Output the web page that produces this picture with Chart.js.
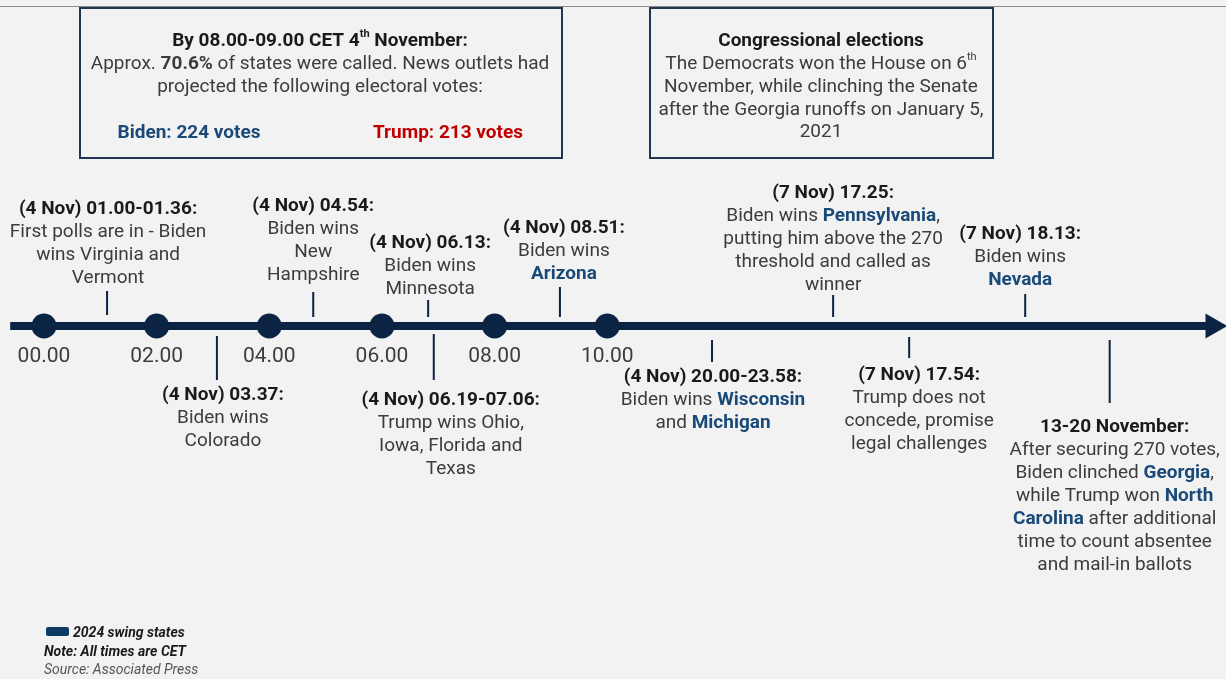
<!DOCTYPE html>
<html>
<head>
<meta charset="utf-8">
<script src="https://cdn.jsdelivr.net/npm/chart.js@4.4.1/dist/chart.umd.min.js"></script>
<style>
    html, body { margin: 0; padding: 0; background: #f2f2f2; }
    #wrap { width: 1226px; height: 679px; }
</style>
</head>
<body>
<div id="wrap"><canvas id="timelineChart" width="1226" height="679"></canvas></div>
<script>
// --- data -------------------------------------------------------------
// hours after midnight CET on 4 Nov (the later events are squeezed in)
const hourTicks = [0, 2, 4, 6, 8, 10];
const hourLabels = ["00.00", "02.00", "04.00", "06.00", "08.00", "10.00"];

const eventTimes = [1.12, 3.07, 4.78, 6.82, 6.92, 9.16, 11.86, 14.01, 15.36, 17.42, 18.92];
const eventSides = ["up", "down", "up", "up", "down", "up", "down", "up", "down", "up", "down"];
const eventTitles = [
    "(4 Nov) 01.00-01.36:",
    "(4 Nov) 03.37:",
    "(4 Nov) 04.54:",
    "(4 Nov) 06.13:",
    "(4 Nov) 06.19-07.06:",
    "(4 Nov) 08.51:",
    "(4 Nov) 20.00-23.58:",
    "(7 Nov) 17.25:",
    "(7 Nov) 17.54:",
    "(7 Nov) 18.13:",
    "13-20 November:",
];
// [[...]] = 2024 swing state (blue bold)
const eventTexts = [
    ["First polls are in - Biden", "wins Virginia and", "Vermont"],
    ["Biden wins", "Colorado"],
    ["Biden wins", "New", "Hampshire"],
    ["Biden wins", "Minnesota"],
    ["Trump wins Ohio,", "Iowa, Florida and", "Texas"],
    ["Biden wins", "[[Arizona]]"],
    ["Biden wins [[Wisconsin]]", "and [[Michigan]]"],
    ["Biden wins [[Pennsylvania]],", "putting him above the 270", "threshold and called as", "winner"],
    ["Trump does not", "concede, promise", "legal challenges"],
    ["Biden wins", "[[Nevada]]"],
    ["After securing 270 votes,", "Biden clinched [[Georgia]],", "while Trump won [[North]]",
     "[[Carolina]] after additional", "time to count absentee", "and mail-in ballots"],
];

const calledShare = "70.6%";
const bidenVotes = 224;
const trumpVotes = 213;

// --- layout (pixels relative to the axis, up = positive) --------------
const stemSpans = [[11, 35], [-10, -54], [9, 34], [9, 26], [-8, -54], [9, 39],
                   [-14, -36], [9, 31], [-11, -32], [9, 32], [-14, -77]];
const labelTop = [119, -67, 122, 85, -72, 100, -49, 135, -47, 94, -99];
const labelShift = [1, 6, 0, 2, 17, 4, 1, 0, 10, -5, 5];

const NAVY = "#0c2444";
const BLUE = "#1a4a78";
const RED = "#c00000";
const TEXT = "#3c3c3c";
const DARK = "#1a1a1a";
const FAMILY = 'Roboto, "Liberation Sans", sans-serif';
const FS = 19;
const LINE_H = 23;
const TEXT_NUDGE = 2; // Roboto sits a little high with a middle baseline

function parseRich(str) {
    return str.split(/(\*\*[^*]+\*\*|\[\[[^\]]+\]\]|\^[^^]+\^)/)
        .filter(s => s)
        .map(s => {
            if (s.startsWith("**")) return { text: s.slice(2, -2), kind: "bold" };
            if (s.startsWith("[[")) return { text: s.slice(2, -2), kind: "blue" };
            if (s.startsWith("^")) return { text: s.slice(1, -1), kind: "sup" };
            return { text: s, kind: "plain" };
        });
}

function segFont(seg, base) {
    const weight = seg.kind === "bold" || seg.kind === "blue" ? "bold" : base.weight;
    const size = seg.kind === "sup" ? Math.round(base.size * 0.6) : base.size;
    return `${base.style || ""} ${weight} ${size}px ${FAMILY}`;
}

// draw one line of rich text centred on cx (or left aligned if base.left)
function drawRich(ctx, str, cx, y, base) {
    const segs = parseRich(str);
    let total = 0;
    segs.forEach(seg => {
        ctx.font = segFont(seg, base);
        seg.w = ctx.measureText(seg.text).width;
        total += seg.w;
    });
    let x = base.left ? cx : cx - total / 2;
    ctx.textAlign = "left";
    ctx.textBaseline = "middle";
    segs.forEach(seg => {
        ctx.font = segFont(seg, base);
        ctx.fillStyle = seg.kind === "blue" ? BLUE : base.color;
        const dy = seg.kind === "sup" ? -base.size * 0.35 : 0;
        ctx.fillText(seg.text, x, y + dy + TEXT_NUDGE);
        x += seg.w;
    });
}

const annotationPlugin = {
    id: "timelineText",
    beforeDraw(chart) {
        const ctx = chart.ctx;
        ctx.save();
        ctx.fillStyle = "#f2f2f2";
        ctx.fillRect(0, 0, chart.width, chart.height);
        ctx.strokeStyle = "#8a8a8a";
        ctx.lineWidth = 1;
        ctx.beginPath();
        ctx.moveTo(0, 6.5);
        ctx.lineTo(chart.width, 6.5);
        ctx.stroke();
        ctx.restore();
    },
    afterDatasetsDraw(chart) {
        const ctx = chart.ctx;
        const xs = chart.scales.x;
        const ys = chart.scales.y;
        ctx.save();

        // hour labels under the dots
        hourTicks.forEach((h, i) => {
            drawRich(ctx, hourLabels[i], xs.getPixelForValue(h), ys.getPixelForValue(-29),
                { weight: "normal", size: 21, color: TEXT });
        });

        // event labels
        eventTimes.forEach((t, i) => {
            const cx = xs.getPixelForValue(t) + labelShift[i];
            let y = ys.getPixelForValue(labelTop[i]);
            drawRich(ctx, eventTitles[i], cx, y, { weight: "bold", size: FS, color: DARK });
            eventTexts[i].forEach(line => {
                y += LINE_H;
                drawRich(ctx, line, cx, y, { weight: "normal", size: FS, color: TEXT });
            });
        });

        // info boxes
        ctx.strokeStyle = "#1e3553";
        ctx.lineWidth = 2;
        ctx.strokeRect(80, 8, 482, 150);
        ctx.strokeRect(650, 8, 343, 150);

        drawRich(ctx, "By 08.00-09.00 CET 4^th^ November:", 320, 39, { weight: "bold", size: FS, color: DARK });
        drawRich(ctx, `Approx. **${calledShare}** of states were called. News outlets had`, 320, 62,
            { weight: "normal", size: FS, color: TEXT });
        drawRich(ctx, "projected the following electoral votes:", 320, 85, { weight: "normal", size: FS, color: TEXT });
        drawRich(ctx, `Biden: ${bidenVotes} votes`, 189, 131, { weight: "bold", size: FS, color: BLUE });
        drawRich(ctx, `Trump: ${trumpVotes} votes`, 448, 131, { weight: "bold", size: FS, color: RED });

        drawRich(ctx, "Congressional elections", 821, 39, { weight: "bold", size: FS, color: DARK });
        ["The Democrats won the House on 6^th^",
         "November, while clinching the Senate",
         "after the Georgia runoffs on January 5,",
         "2021"].forEach((line, i) => {
            drawRich(ctx, line, 821, 62 + i * LINE_H - (i === 3 ? 1 : 0),
                { weight: "normal", size: FS, color: TEXT });
        });

        // legend and notes
        ctx.fillStyle = "#0f3a63";
        ctx.beginPath();
        ctx.roundRect(46, 627, 23, 9, 2);
        ctx.fill();
        drawRich(ctx, "2024 swing states", 73, 631, { style: "italic", weight: "bold", size: 14, color: DARK, left: true });
        drawRich(ctx, "Note: All times are CET", 44, 650, { style: "italic", weight: "bold", size: 14, color: DARK, left: true });
        drawRich(ctx, "Source: Associated Press", 44, 668, { style: "italic", weight: "normal", size: 14, color: "#555555", left: true });

        ctx.restore();
    },
};

// stems: pairs of points, broken by gaps
const stemPoints = [];
eventTimes.forEach((t, i) => {
    stemPoints.push({ x: t, y: stemSpans[i][0] });
    stemPoints.push({ x: t, y: stemSpans[i][1] });
    stemPoints.push({ x: t, y: null });
});

new Chart(document.getElementById("timelineChart"), {
    type: "line",
    data: {
        datasets: [
            {
                label: "axis",
                data: [{ x: -0.6, y: 0 }, { x: 20.65, y: 0 }],
                borderColor: NAVY,
                borderWidth: 8,
                pointRadius: 0,
                order: 3,
            },
            {
                label: "arrow",
                data: [{ x: 20.75, y: 0 }],
                showLine: false,
                pointStyle: "triangle",
                pointRotation: 90,
                pointRadius: 14.5,
                pointBackgroundColor: NAVY,
                pointBorderWidth: 0,
                order: 2,
            },
            {
                label: "hours",
                data: hourTicks.map(h => ({ x: h, y: 0 })),
                showLine: false,
                pointRadius: 12.5,
                pointBackgroundColor: NAVY,
                pointBorderWidth: 0,
                order: 1,
            },
            {
                label: "stems",
                data: stemPoints,
                borderColor: NAVY,
                borderWidth: 2,
                pointRadius: 0,
                spanGaps: false,
                order: 4,
            },
        ],
    },
    options: {
        responsive: false,
        animation: false,
        layout: { padding: 0, autoPadding: false },
        clip: false,
        plugins: {
            legend: { display: false },
            tooltip: { enabled: false },
        },
        scales: {
            x: { type: "linear", min: -0.781, max: 20.985, display: false },
            y: { type: "linear", min: -353, max: 326, display: false },
        },
    },
    plugins: [annotationPlugin],
});
</script>
</body>
</html>
